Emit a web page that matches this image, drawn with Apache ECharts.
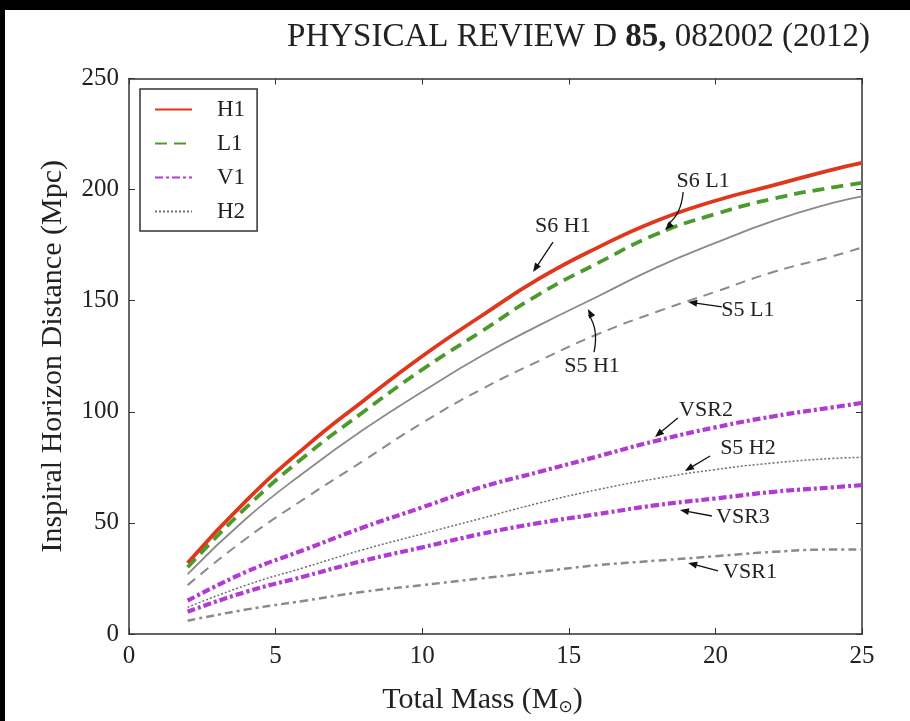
<!DOCTYPE html>
<html>
<head>
<meta charset="utf-8">
<script src="https://cdn.jsdelivr.net/npm/echarts@6/dist/echarts.min.js"></script>
<style>
  html, body { margin: 0; padding: 0; background: #000; }
  #chart { width: 910px; height: 721px; }
</style>
</head>
<body>
<div id="chart"></div>
<script>
// total mass (Msun)
var mass = [2, 4, 6, 8, 10, 12, 14, 16, 18, 20, 22, 24, 25];

// inspiral horizon distance (Mpc)
var s6H1 = [32, 60, 84, 105, 125, 143, 160, 174, 186, 195, 202, 209, 212];
var s6L1 = [30, 57, 80, 100, 119, 136, 153, 167, 180, 189, 196, 201, 203];
var s5H1 = [27, 52, 73, 92, 109, 125, 139, 152, 165, 176, 186, 194, 197];
var s5L1 = [22, 43, 61, 78, 95, 110, 123, 135, 145, 154, 163, 170, 174];
var vsr2 = [15, 28, 38, 48, 57, 66, 73, 80, 87, 93, 98, 102, 104];
var s5H2 = [12, 22, 30, 38, 45, 52, 59, 65, 70, 74, 77, 79, 79.5];
var vsr3 = [10, 19, 26, 33, 39, 45, 50, 54, 58, 61, 64, 66, 67];
var vsr1 = [6, 11, 15, 19, 22, 25, 28, 31, 33, 35, 37, 38, 38];

var xTicks = [0, 5, 10, 15, 20, 25];
var yTicks = [0, 50, 100, 150, 200, 250];

// annotations: label, text pos, arrow start, arrow tip (data coords), curve bend
var notes = [
  ['S6 H1', 14.80, 183.6, 14.46, 176.4, 13.78, 162.9, 0],
  ['S6 L1', 19.58, 203.9, 18.90, 198.9, 18.28, 181.8, -8],
  ['S5 H1', 15.79, 120.6, 15.86, 126.9, 15.65, 146.3, 8],
  ['S5 L1', 21.11, 145.8, 20.22, 147.2, 19.07, 149.4, 0],
  ['VSR2', 19.68, 100.8, 18.72, 97.2, 17.94, 88.7, 0],
  ['S5 H2', 21.11, 83.7, 19.82, 80.1, 18.96, 73.4, 0],
  ['VSR3', 20.94, 52.7, 19.88, 53.1, 18.79, 55.8, 0],
  ['VSR1', 21.18, 27.9, 20.09, 28.4, 19.07, 32.0, 0]
];

var FONT = 'Liberation Serif';

function pairs(vals) {
  return mass.map(function (m, i) { return [m, vals[i]]; });
}

function line(name, vals, color, width, dash) {
  return {
    name: name,
    type: 'line',
    data: pairs(vals),
    smooth: true,
    symbol: 'none',
    lineStyle: { color: color, width: width, type: dash },
    itemStyle: { color: color },
    z: 3
  };
}

var chart = echarts.init(document.getElementById('chart'));

function axisBase() {
  return {
    type: 'value',
    axisLine: { show: true, onZero: false, lineStyle: { color: '#333', width: 1.5 } },
    axisTick: { show: true, inside: true, length: 6, lineStyle: { color: '#333', width: 1 } },
    splitLine: { show: false }
  };
}

var option = {
  backgroundColor: '#fff',
  animation: false,
  title: {
    right: 35,
    top: 16,
    text: '{a|PHYSICAL REVIEW D }{b|85,}{a| 082002 (2012)}',
    textStyle: {
      fontWeight: 'normal',
      rich: {
        a: { fontFamily: FONT, fontSize: 33, color: '#222', fontWeight: 'normal' },
        b: { fontFamily: FONT, fontSize: 33, color: '#222', fontWeight: 'bold' }
      }
    }
  },
  legend: {
    data: ['H1', 'L1', 'V1', 'H2'],
    orient: 'vertical',
    left: 140,
    top: 89,
    padding: [9, 12, 8, 14],
    itemWidth: 37,
    itemHeight: 14,
    itemGap: 11,
    borderColor: '#333',
    borderWidth: 1.5,
    backgroundColor: '#fff',
    selectedMode: false,
    itemStyle: { color: 'rgba(0,0,0,0)', borderWidth: 0, opacity: 0 },
    textStyle: { fontFamily: FONT, fontSize: 23, lineHeight: 23, color: '#222', padding: [0, 0, 0, 20] }
  },
  grid: {
    left: 129, right: 48, top: 78.5, bottom: 87,
    containLabel: false,
    outerBoundsMode: 'none'
  },
  xAxis: [
    Object.assign(axisBase(), {
      min: 0, max: 25, interval: 5,
      position: 'bottom',
      axisLabel: {
        fontFamily: FONT, fontSize: 25, color: '#222', margin: 10,
        formatter: function (v) { return xTicks.indexOf(v) >= 0 ? String(v) : ''; }
      },
      name: 'Total Mass (M{sub|⊙})',
      nameLocation: 'middle',
      nameGap: 51,
      nameTextStyle: {
        fontFamily: FONT, fontSize: 30, color: '#222',
        padding: [0, 26, 0, 0],
        rich: { sub: { fontFamily: 'DejaVu Sans', fontSize: 17, color: '#222', verticalAlign: 'bottom', padding: [14, 0, 0, 0] } }
      }
    }),
    Object.assign(axisBase(), {
      min: 0, max: 25, interval: 5,
      position: 'top',
      axisLabel: { show: false }
    })
  ],
  yAxis: [
    Object.assign(axisBase(), {
      min: 0, max: 250, interval: 50,
      position: 'left',
      axisLabel: {
        fontFamily: FONT, fontSize: 25, color: '#222', margin: 10,
        formatter: function (v) { return yTicks.indexOf(v) >= 0 ? String(v) : ''; }
      },
      name: 'Inspiral Horizon Distance (Mpc)',
      nameLocation: 'middle',
      nameGap: 61,
      nameTextStyle: { fontFamily: FONT, fontSize: 30, color: '#222' }
    }),
    Object.assign(axisBase(), {
      min: 0, max: 250, interval: 50,
      position: 'right',
      axisLabel: { show: false }
    })
  ],
  series: [
    line('H1', s6H1, '#e0361c', 3.8, 'solid'),
    line('L1', s6L1, '#4b9a2c', 3.8, [12, 7]),
    line('S5 H1', s5H1, '#8a8a8a', 1.8, 'solid'),
    line('S5 L1', s5L1, '#8a8a8a', 2, [10, 7]),
    line('V1', vsr2, '#b23ad4', 4.2, [8, 3, 3, 3]),
    line('H2', s5H2, '#6e6e6e', 1.5, [2, 2]),
    line('V1', vsr3, '#b23ad4', 4.2, [8, 3, 3, 3]),
    line('VSR1', vsr1, '#8a8a8a', 2.5, [8, 4, 3, 4])
  ]
};

chart.setOption(option);

function px(x, y) {
  return chart.convertToPixel({ xAxisIndex: 0, yAxisIndex: 0 }, [x, y]);
}

var graphics = [
  { type: 'rect', shape: { x: 0, y: 0, width: 5, height: 721 }, style: { fill: '#000' }, silent: true },
  { type: 'rect', shape: { x: 0, y: 0, width: 910, height: 10 }, style: { fill: '#000' }, silent: true }
];

notes.forEach(function (n) {
  var t = px(n[1], n[2]), s = px(n[3], n[4]), e = px(n[5], n[6]);
  graphics.push({
    type: 'text',
    x: t[0], y: t[1],
    style: { text: n[0], font: '22px "' + FONT + '"', fill: '#222', align: 'center', verticalAlign: 'middle' },
    z: 10
  });
  var dx = e[0] - s[0], dy = e[1] - s[1];
  var len = Math.sqrt(dx * dx + dy * dy);
  var ux = dx / len, uy = dy / len;
  // control point bent sideways for curved arrows
  var cx = (s[0] + e[0]) / 2 - uy * n[7];
  var cy = (s[1] + e[1]) / 2 + ux * n[7];
  var ex = e[0] - ux * 6, ey = e[1] - uy * 6;
  graphics.push({
    type: 'bezierCurve',
    shape: { x1: s[0], y1: s[1], x2: ex, y2: ey, cpx1: cx, cpy1: cy },
    style: { stroke: '#111', lineWidth: 1.3, fill: null },
    z: 10
  });
  // arrow head along the last segment direction
  var hx = e[0] - cx, hy = e[1] - cy;
  var hl = Math.sqrt(hx * hx + hy * hy);
  hx /= hl; hy /= hl;
  var bx = e[0] - hx * 9, by = e[1] - hy * 9;
  graphics.push({
    type: 'polygon',
    shape: { points: [[e[0], e[1]], [bx - hy * 3.5, by + hx * 3.5], [bx + hy * 3.5, by - hx * 3.5]] },
    style: { fill: '#111' },
    z: 10
  });
});

chart.setOption({ graphic: graphics });
</script>
</body>
</html>
